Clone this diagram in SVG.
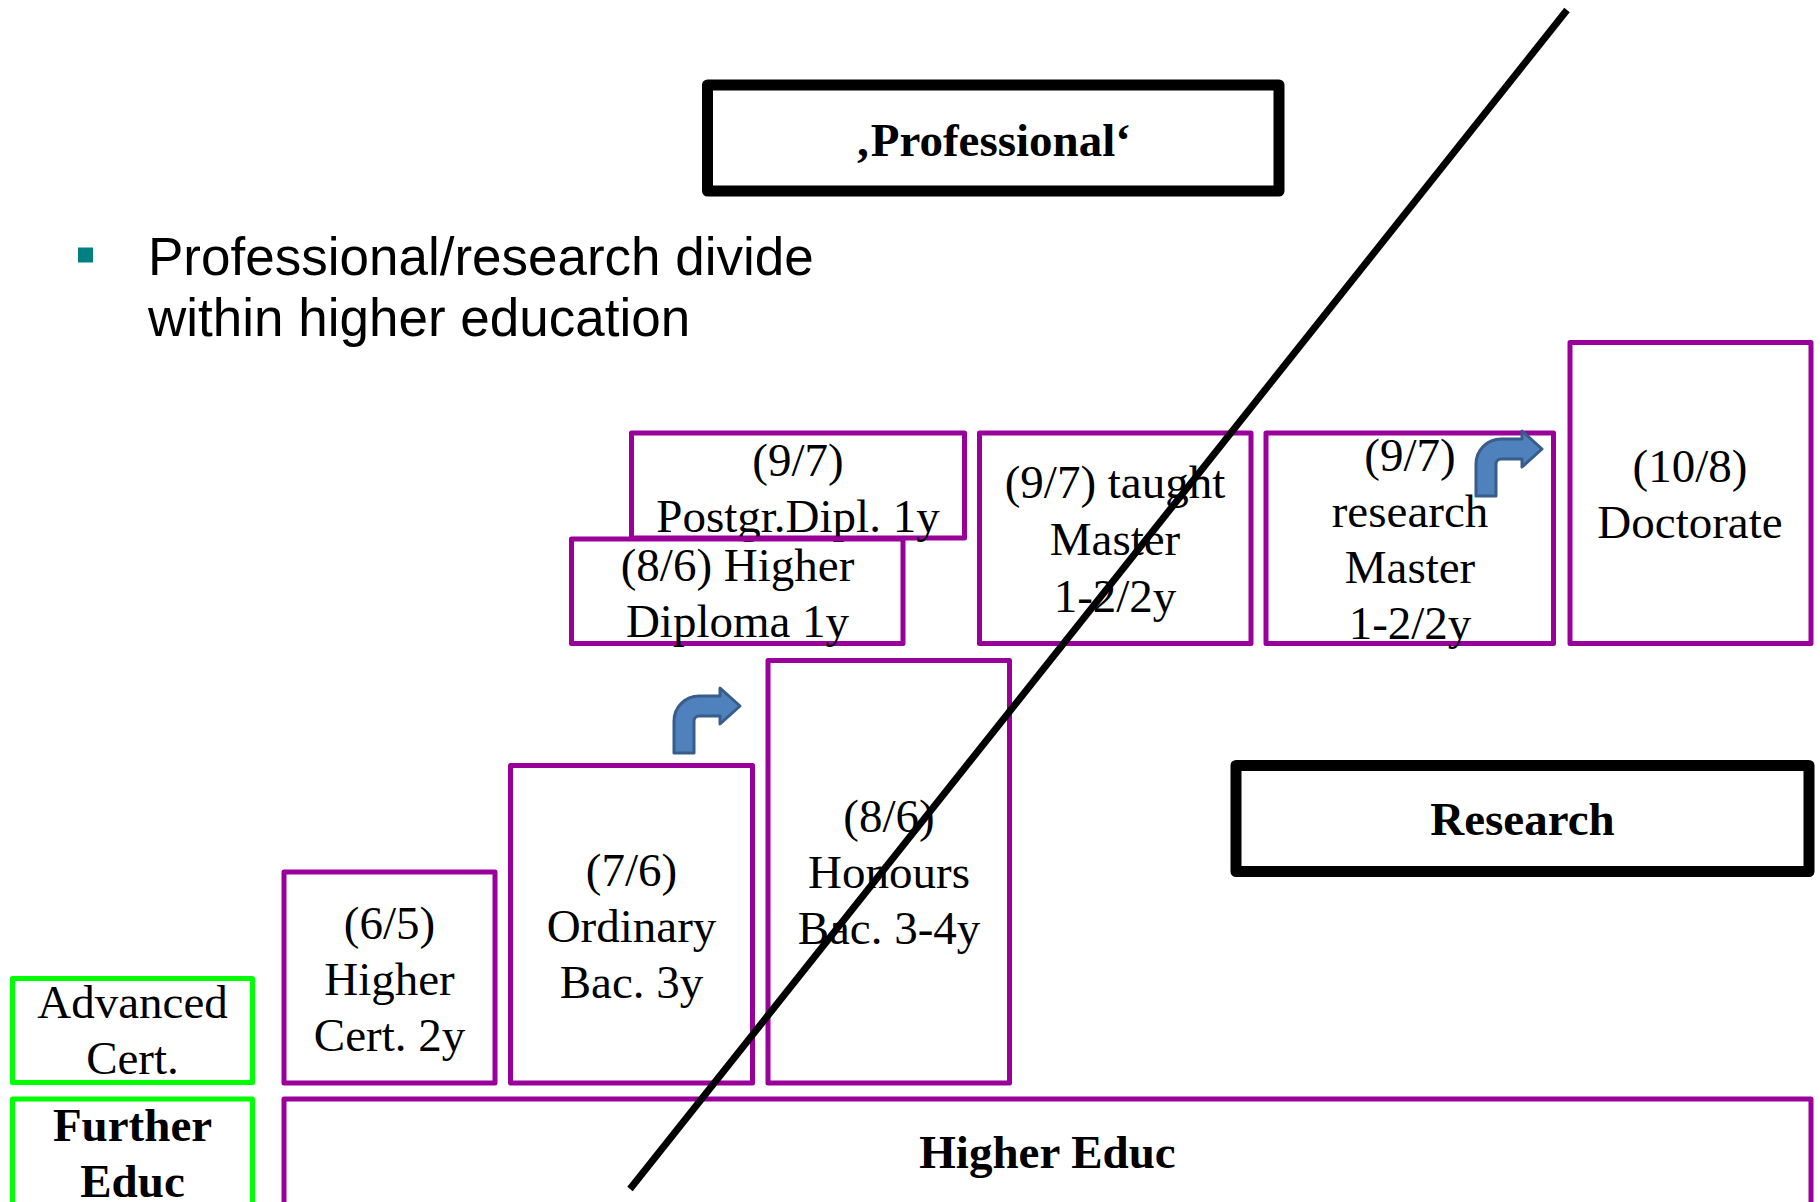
<svg xmlns="http://www.w3.org/2000/svg" width="1820" height="1202" viewBox="0 0 1820 1202">
  <style>
    .he { fill: none; stroke: #990099; stroke-width: 5; stroke-linejoin: round; }
    .fe { fill: none; stroke: #00ff00; stroke-width: 5; stroke-linejoin: round; }
    .lab { fill: none; stroke: #000000; stroke-width: 11; stroke-linejoin: round; }
    .t { font-family: "Liberation Serif", "Times New Roman", serif; font-size: 47px; fill: #000000; text-anchor: middle; }
    .b { font-weight: bold; }
    .bul { font-family: "Liberation Sans", Arial, sans-serif; font-size: 53px; fill: #000000; }
    .arr { fill: #4f81bd; stroke: #385d8a; stroke-width: 3; stroke-linejoin: round; }
  </style>
  <defs>
    <path id="bent" d="M0,65 V33 A25 25 0 0 1 25,8 H46 V0 L66,18 L46,36 V28 H25 A5 5 0 0 0 20,33 V65 Z"/>
  </defs>
  <rect width="1820" height="1202" fill="#ffffff"/>

  <!-- heading bullet -->
  <g id="bullet">
    <rect x="78" y="247.5" width="15" height="15" fill="#008080"/>
    <text class="bul" x="148" y="275">Professional/research divide</text>
    <text class="bul" x="148" y="336">within higher education</text>
  </g>

  <!-- side labels -->
  <g id="label-professional">
    <rect class="lab" x="707.5" y="85" width="571.5" height="106"/>
    <text class="t b" x="993" y="156">‚Professional‘</text>
  </g>
  <g id="label-research">
    <rect class="lab" x="1236" y="765.5" width="573" height="106"/>
    <text class="t b" x="1522.5" y="835">Research</text>
  </g>

  <!-- further education column -->
  <g id="further-educ">
    <rect class="fe" x="12.5" y="1099" width="240" height="110"/>
    <text class="t b" x="132.5" y="1141">Further</text>
    <text class="t b" x="132.5" y="1197">Educ</text>
  </g>
  <g id="advanced-cert">
    <rect class="fe" x="12.5" y="978.5" width="240" height="104"/>
    <text class="t" x="132.5" y="1018">Advanced</text>
    <text class="t" x="132.5" y="1074">Cert.</text>
  </g>

  <!-- higher education ladder -->
  <g id="higher-educ">
    <rect class="he" x="284" y="1099" width="1527" height="110"/>
    <text class="t b" x="1047.5" y="1168">Higher Educ</text>
  </g>
  <g id="higher-cert">
    <rect class="he" x="284" y="872" width="211" height="211"/>
    <text class="t" x="389.5" y="939">(6/5)</text>
    <text class="t" x="389.5" y="995">Higher</text>
    <text class="t" x="389.5" y="1051">Cert. 2y</text>
  </g>
  <g id="ordinary-bac">
    <rect class="he" x="510.5" y="765.5" width="242" height="317.5"/>
    <text class="t" x="631.5" y="886">(7/6)</text>
    <text class="t" x="631.5" y="942">Ordinary</text>
    <text class="t" x="631.5" y="998">Bac. 3y</text>
  </g>
  <g id="honours-bac">
    <rect class="he" x="768" y="660.5" width="241.5" height="422.5"/>
    <text class="t" x="889" y="832">(8/6)</text>
    <text class="t" x="889" y="888">Honours</text>
    <text class="t" x="889" y="944">Bac. 3-4y</text>
  </g>
  <g id="postgr-dipl">
    <rect class="he" x="631.5" y="433" width="333" height="105"/>
    <text class="t" x="798" y="476">(9/7)</text>
    <text class="t" x="798" y="532">Postgr.Dipl. 1y</text>
  </g>
  <g id="higher-diploma">
    <rect class="he" x="571.5" y="539" width="331.5" height="104.5"/>
    <text class="t" x="737.5" y="581">(8/6) Higher</text>
    <text class="t" x="737.5" y="637">Diploma 1y</text>
  </g>
  <g id="taught-master">
    <rect class="he" x="979.5" y="433" width="271.5" height="210.5"/>
    <text class="t" x="1115" y="498">(9/7) taught</text>
    <text class="t" x="1115" y="555">Master</text>
    <text class="t" x="1115" y="612">1-2/2y</text>
  </g>
  <g id="research-master">
    <rect class="he" x="1266" y="433" width="287.5" height="210.5"/>
    <text class="t" x="1410" y="471">(9/7)</text>
    <text class="t" x="1410" y="527">research</text>
    <text class="t" x="1410" y="583">Master</text>
    <text class="t" x="1410" y="639">1-2/2y</text>
  </g>
  <g id="doctorate">
    <rect class="he" x="1570" y="342.5" width="241" height="301"/>
    <text class="t" x="1690" y="482">(10/8)</text>
    <text class="t" x="1690" y="538">Doctorate</text>
  </g>

  <!-- progression arrows -->
  <g id="connectors">
    <use href="#bent" class="arr" transform="translate(674,688)"/>
    <use href="#bent" class="arr" transform="translate(1476,431)"/>
  </g>

  <!-- professional / research dividing line -->
  <g id="divide">
    <line x1="1567" y1="10" x2="630" y2="1189" stroke="#000000" stroke-width="7"/>
  </g>
</svg>
